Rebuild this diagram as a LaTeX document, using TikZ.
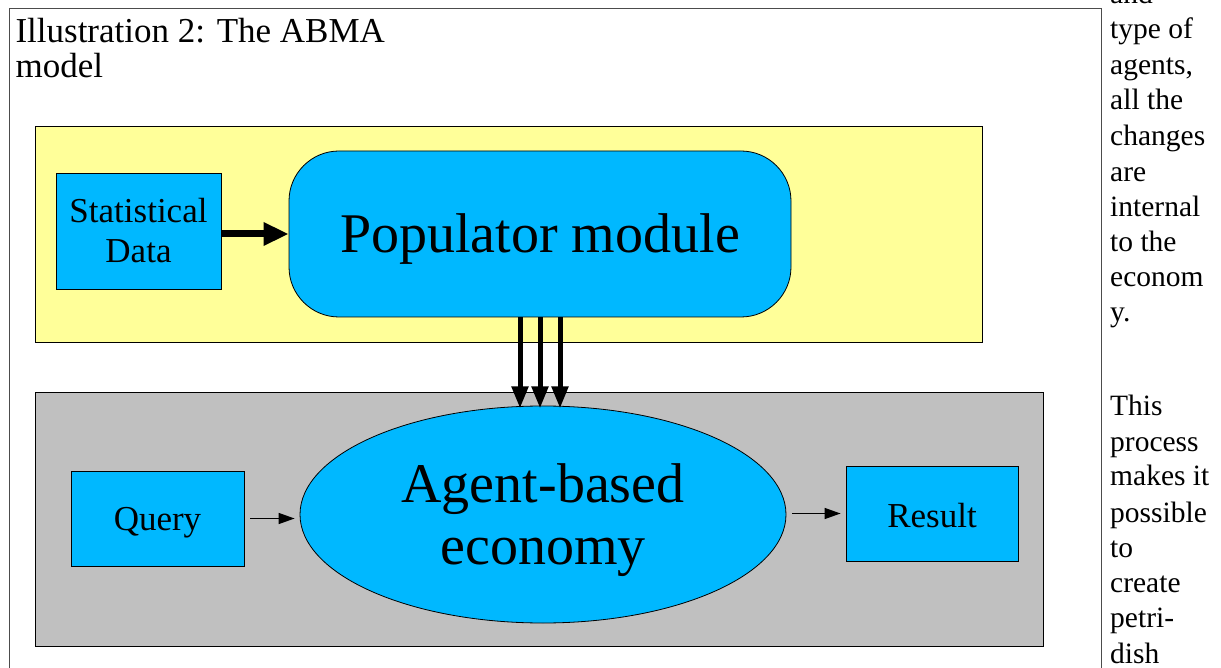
\documentclass[tikz,border=0pt]{standalone}
\usepackage{fontspec}
\setmainfont{Liberation Serif}
\usetikzlibrary{arrows.meta,shapes.geometric,positioning}
\definecolor{skyblue}{HTML}{00B8FF}
\definecolor{paleyellow}{HTML}{FFFF99}
\definecolor{panelgray}{HTML}{C0C0C0}
\newcommand\twolines[2]{\raisebox{#1}[\height][\depth]{\begin{tabular}{@{}c@{}}#2\end{tabular}}}
\tikzset{
  box/.style={draw, fill=skyblue, line width=0.8pt, align=center, inner sep=0pt,
    font=\fontsize{35}{40}\selectfont},
  panel/.style={draw, line width=0.8pt},
  feed/.style={-{Triangle[length=16pt,width=11pt]}, line width=1.3pt,
    shorten <=6pt, shorten >=5pt},
  spawn/.style={-{Triangle[length=22pt,width=16pt]}, line width=5pt},
}
\begin{document}
\begin{tikzpicture}[x=1pt,y=-1pt]
\useasboundingbox (0,0) rectangle (1221,668);
\def\yellowpanel{(35,126) rectangle (982,342)}
\def\graypanel{(35,392) rectangle (1043,646)}
% page frame
\draw[line width=1pt, black!70] (9,668) -- (9,9) -- (1101,9) -- (1101,668);
\node[anchor=base west, align=left, font=\fontsize{35}{35}\selectfont]
  (caption) at (12,78) {Illustration 2: The ABMA\\model};
% panels
\fill[paleyellow] \yellowpanel; \draw[panel] \yellowpanel;
\fill[panelgray] \graypanel; \draw[panel] \graypanel;
% upper part
\node[box, minimum width=165pt, minimum height=116pt]
  (stats) at (138.5,231) {\twolines{-4pt}{Statistical\\Data}};
\node[box, rounded corners=50pt, minimum width=502pt, minimum height=166pt,
  text height=45pt, text depth=7pt, font=\fontsize{56}{60}\selectfont]
  (populator) at (540,234) {Populator module};
\draw[-{Triangle[length=25pt,width=22pt]}, line width=7pt] (stats.east |- populator) -- (populator);
% lower part
\node[box, ellipse, minimum width=486pt, minimum height=217pt,
  font=\fontsize{56}{62}\selectfont]
  (economy) at (543,514.5) {\twolines{-7pt}{Agent-based\\economy}};
\node[box, minimum width=173pt, minimum height=95pt, text height=30pt, text depth=7pt]
  (query) at (157.5,518.5) {Query};
\node[box, minimum width=172pt, minimum height=95pt, text height=27pt, text depth=0pt]
  (result) at (932,513.5) {Result};
\draw[feed] (query) -- (query -| economy.west);
\draw[feed] (economy.east |- result) -- (result);
\foreach \dx in {-20,0,20}
  \draw[spawn] ([xshift=\dx pt]populator.south) -- ++(0,91);
% text column beside the figure
\foreach \txt/\y in {and/4, type of/39, {agents,}/75, all the/110, changes/146,
    are/182, internal/217, to the/252, econom/287, y./322, This/415, process/451,
    makes it/485, possible/522, to/557, create/592, petri-/627, dish/663}
  \node[anchor=base west, inner sep=0pt, font=\fontsize{29.5}{30}\selectfont]
    at (1110,\y) {\txt};
\end{tikzpicture}
\end{document}
